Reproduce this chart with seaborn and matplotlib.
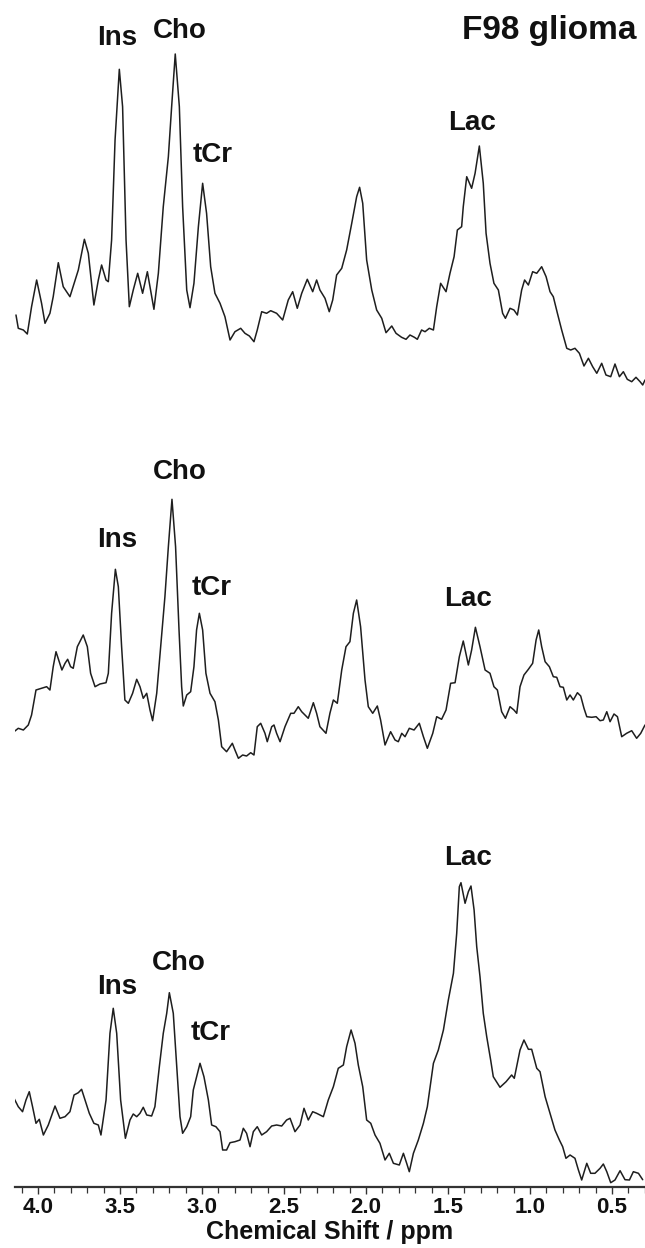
import numpy as np
import pandas as pd
import matplotlib
matplotlib.use("Agg")
import matplotlib.pyplot as plt
from matplotlib.ticker import MultipleLocator
import seaborn as sns

# ---------------- data ----------------
# Trace 1 (top)
ppm1 = [4.134, 4.120, 4.089, 4.065, 4.039, 4.008, 3.978, 3.957, 3.927, 3.907, 3.876, 3.846, 3.805, 3.754,
        3.717, 3.693, 3.659, 3.632, 3.612, 3.585, 3.571, 3.551, 3.530, 3.504, 3.484, 3.463, 3.443, 3.419,
        3.392, 3.362, 3.333, 3.317, 3.293, 3.266, 3.236, 3.205, 3.185, 3.163, 3.138, 3.118, 3.093, 3.073,
        3.049, 3.022, 2.996, 2.972, 2.947, 2.921, 2.890, 2.860, 2.829, 2.799, 2.764, 2.738, 2.711, 2.683,
        2.663, 2.636, 2.606, 2.581, 2.545, 2.508, 2.474, 2.447, 2.419, 2.392, 2.358, 2.325, 2.301,
        2.281, 2.250, 2.224, 2.203, 2.179, 2.148, 2.118, 2.087, 2.057, 2.039, 2.020, 1.996, 1.965, 1.935,
        1.904, 1.878, 1.843, 1.817, 1.783, 1.756, 1.732, 1.705, 1.687, 1.661, 1.640, 1.614, 1.589, 1.569,
        1.545, 1.512, 1.488, 1.463, 1.443, 1.417, 1.407, 1.386, 1.356, 1.335, 1.309, 1.285, 1.268, 1.244,
        1.220, 1.193, 1.167, 1.150, 1.122, 1.098, 1.077, 1.051, 1.033, 1.010, 0.984, 0.959, 0.929, 0.902,
        0.878, 0.858, 0.833, 0.807, 0.776, 0.752, 0.726, 0.699, 0.671, 0.644, 0.618, 0.593, 0.563, 0.537,
        0.508, 0.482, 0.455, 0.431, 0.407, 0.380, 0.354, 0.329, 0.313, 0.299]
int1 = [82, 68.7, 67, 63, 90.3, 117, 93.7, 73.7, 83.7, 100.3, 134.3, 110.3, 100.3, 127,
        157.7, 143.7, 92, 117, 132, 117, 115.3, 157, 257, 327.7, 290.3, 157, 90.3, 107,
        123.7, 103.7, 125.3, 110.3, 87.7, 123.7, 190.3, 240.3, 290.3, 343, 290.3, 190.3, 107, 89.3,
        113.7, 170.3, 213.7, 183.7, 130.3, 103.7, 93.7, 80.3, 57, 65.3, 68.7, 63.7, 61, 55.3,
        67, 85.3, 83.7, 86.3, 83.7, 77, 97, 105.3, 88.7, 103.7, 117.7, 105.3, 117,
        107, 98.7, 85.3, 97, 122, 128.7, 147, 173.7, 200.3, 209.7, 193.7, 137, 107, 87,
        78.7, 64.3, 71, 63.7, 59.7, 57.7, 62, 59.7, 57.7, 67, 65.3, 68.7, 67, 90.3,
        113.7, 105.3, 123.7, 140.3, 167, 170.3, 190.3, 220.3, 208.7, 223.7, 251, 213.7, 163.7, 133.7,
        113.7, 107, 83.7, 78.7, 88.7, 87, 82, 107, 117, 112, 125.3, 123.7, 130.3, 120.3,
        105.3, 100.3, 83.7, 67, 48.7, 47, 48.7, 43.7, 31, 38.7, 30.3, 23.7, 33.7, 22,
        20.3, 33, 20.3, 25.3, 17.7, 15.3, 19.7, 15.3, 12, 17]

# Trace 2 (middle)
ppm2 = [4.146, 4.120, 4.089, 4.059, 4.039, 4.012, 3.978, 3.947, 3.927, 3.907, 3.890, 3.870, 3.854, 3.835,
        3.819, 3.801, 3.785, 3.760, 3.724, 3.699, 3.679, 3.652, 3.622, 3.585, 3.571, 3.551, 3.528, 3.510,
        3.490, 3.470, 3.449, 3.423, 3.398, 3.378, 3.358, 3.337, 3.317, 3.301, 3.276, 3.252, 3.226, 3.205,
        3.183, 3.161, 3.140, 3.124, 3.114, 3.093, 3.069, 3.049, 3.033, 3.016, 2.996, 2.976, 2.951, 2.921,
        2.900, 2.880, 2.850, 2.815, 2.799, 2.778, 2.752, 2.728, 2.703, 2.683, 2.663, 2.642, 2.616, 2.602,
        2.575, 2.561, 2.545, 2.524, 2.494, 2.459, 2.439, 2.413, 2.392, 2.372, 2.352, 2.321, 2.301,
        2.281, 2.244, 2.220, 2.199, 2.175, 2.148, 2.122, 2.098, 2.077, 2.057, 2.033, 2.006, 1.986, 1.959,
        1.931, 1.911, 1.884, 1.850, 1.823, 1.803, 1.782, 1.762, 1.736, 1.707, 1.675, 1.650, 1.626, 1.593,
        1.569, 1.539, 1.512, 1.484, 1.457, 1.431, 1.407, 1.376, 1.356, 1.333, 1.305, 1.274, 1.244, 1.220,
        1.199, 1.173, 1.150, 1.122, 1.098, 1.081, 1.061, 1.037, 1.010, 0.984, 0.963, 0.947, 0.929, 0.908,
        0.882, 0.858, 0.837, 0.817, 0.797, 0.776, 0.756, 0.736, 0.711, 0.691, 0.671, 0.654, 0.624, 0.597,
        0.573, 0.553, 0.532, 0.512, 0.488, 0.467, 0.441, 0.411, 0.380, 0.350, 0.325, 0.299]
int2 = [35.3, 38.7, 37, 42, 52, 77, 78.7, 80.3, 77, 100.3, 115.3, 105.3, 97, 103.7,
        107.7, 100.3, 98.7, 120.3, 132, 120.3, 93.7, 80.3, 83, 84.3, 93.7, 153.7, 197.7, 180.3,
        120.3, 67, 63.7, 73.7, 87.7, 80.3, 68.7, 73.7, 57, 46.3, 73.7, 120.3, 170.3, 220.3,
        267.7, 220.3, 137, 80.3, 61, 72, 75.3, 100.3, 137, 153.7, 137, 93.7, 73.7, 65.3,
        47, 20.3, 15.3, 23.7, 17, 8.7, 12, 11, 14.3, 12, 40.3, 43.7, 33.7, 25.3,
        40.3, 42, 33.7, 25.3, 40.3, 53.7, 53.7, 60.3, 55.3, 52, 48.7, 64.3, 53.7,
        40.3, 33.7, 53.7, 67, 63.7, 97, 120.3, 125.3, 153.7, 167, 140.3, 87, 60.3, 53.7,
        61, 47, 22, 35.3, 27, 25.3, 33.7, 30.3, 38.7, 37, 43.7, 30.3, 18.7, 33.7,
        50.3, 47.7, 57, 83.7, 84.3, 110.3, 126, 102, 117, 139.7, 120.3, 97, 93.7, 80.3,
        77, 55.3, 48.7, 60.3, 57, 53.7, 80.3, 92, 97.7, 103.7, 127, 137, 120.3, 105.3,
        100.3, 90.3, 89.7, 80.3, 79.7, 67, 72, 67, 74.3, 71, 58.7, 50.3, 49.7, 50.3,
        46.3, 47, 55.3, 45.3, 53, 50.3, 30.3, 33.7, 36.3, 28.7, 33.7, 42]

# Trace 3 (bottom)
ppm3 = [4.167, 4.146, 4.120, 4.094, 4.073, 4.053, 4.033, 4.012, 3.992, 3.967, 3.937, 3.896, 3.866, 3.835,
        3.805, 3.780, 3.754, 3.734, 3.713, 3.687, 3.659, 3.632, 3.616, 3.585, 3.561, 3.541, 3.520, 3.496,
        3.467, 3.439, 3.419, 3.398, 3.378, 3.358, 3.337, 3.307, 3.287, 3.260, 3.236, 3.215, 3.199, 3.175,
        3.154, 3.134, 3.118, 3.093, 3.069, 3.053, 3.012, 2.988, 2.961, 2.941, 2.915, 2.890, 2.874, 2.850,
        2.829, 2.799, 2.768, 2.748, 2.728, 2.707, 2.687, 2.663, 2.636, 2.606, 2.575, 2.545, 2.514, 2.484,
        2.463, 2.433, 2.402, 2.378, 2.352, 2.325, 2.301,
        2.281, 2.260, 2.230, 2.199, 2.169, 2.138, 2.118, 2.091, 2.067, 2.047, 2.020, 1.996, 1.971, 1.945,
        1.915, 1.884, 1.858, 1.833, 1.797, 1.772, 1.752, 1.736, 1.711, 1.681, 1.650, 1.626, 1.589, 1.559,
        1.528, 1.498, 1.467, 1.447, 1.431, 1.421, 1.396, 1.376, 1.360, 1.341, 1.325, 1.305, 1.285, 1.264,
        1.240, 1.224, 1.183, 1.146, 1.112, 1.096, 1.061, 1.037, 1.010, 0.990, 0.959, 0.939, 0.908, 0.878,
        0.848, 0.821, 0.801, 0.781, 0.756, 0.726, 0.705, 0.685, 0.654, 0.630, 0.604, 0.573, 0.553, 0.532,
        0.508, 0.482, 0.451, 0.421, 0.394, 0.370, 0.339, 0.313]
int3 = [102, 88.7, 80.3, 75.3, 87, 95.3, 80.3, 63.7, 67.7, 52, 62, 81, 68.7, 70.3,
        75.3, 92, 94.3, 97.7, 87, 73.7, 63.7, 62, 52, 87, 153.7, 178.7, 153.7, 87,
        48.7, 67, 73, 70.3, 73.7, 79.7, 72, 71, 80.3, 120.3, 153.7, 173.7, 194.3, 173.7,
        120.3, 70.3, 53.7, 60.3, 70.3, 97, 123.7, 110.3, 87, 62, 60.3, 55.3, 37, 37,
        44.3, 45.3, 47, 58.7, 53.7, 40.3, 55.3, 60.3, 52, 55.3, 61, 62, 61, 67,
        68.7, 55.3, 62, 78.7, 67, 75.3, 73.7,
        72, 70.3, 87, 100.3, 118.7, 122, 140.3, 157, 143.7, 122, 100.3, 67, 63.7, 52,
        43.7, 27, 33.7, 23.7, 22, 33.7, 23.7, 15.3, 33.7, 47, 63.7, 80.3, 123.7, 137,
        157, 187, 213.7, 253.7, 300.3, 304.3, 283.7, 295.3, 301, 277, 240.3, 210.3, 173.7, 150.3,
        127, 110.3, 99.7, 105.3, 112, 108.7, 137, 147, 137.7, 137.7, 118.7, 115.3, 90.3, 73.7,
        57, 47, 40.3, 28.7, 32, 28.7, 17, 7, 23.7, 13.7, 13.7, 18.7, 23, 15.3,
        4.3, 7, 16.3, 7.3, 7, 15.3, 13.7, 7.3]

# metabolite labels: (text, ppm, height) for each trace (height in same units as the traces)
lab_text = ["Ins", "Cho", "tCr", "Lac"]
lab_ppm1 = [3.518, 3.134, 2.933, 1.354]
lab_h1 = [1149, 1156, 1032, 1064]
lab_ppm2 = [3.518, 3.134, 2.939, 1.378]
lab_h2 = [647, 715, 599, 588]
lab_ppm3 = [3.518, 3.140, 2.945, 1.378]
lab_h3 = [200, 224, 154, 329]

xticks = [4.0, 3.5, 3.0, 2.5, 2.0, 1.5, 1.0, 0.5]
xticklabels = ["4.0", "3.5", "3.0", "2.5", "2.0", "1.5", "1.0", "0.5"]

# ---------------- plotting ----------------
sns.set_theme(style="ticks")
plt.rcParams['font.family'] = ['Liberation Sans', 'DejaVu Sans']

W, H = 645, 1248
fig = plt.figure(figsize=(W / 100, H / 100), dpi=100)
ax = fig.add_axes([15 / W, (H - 1187) / H, (645 - 15) / W, 1187 / H])

offsets = [790, 420, 0]
line_kw = dict(color="#1e1e1e", linewidth=1.1, estimator=None, sort=False, legend=False)
for p, v, off in [(ppm1, int1, offsets[0]), (ppm2, int2, offsets[1]), (ppm3, int3, offsets[2])]:
    df = pd.DataFrame({"ppm": p, "I": np.asarray(v, dtype=float) + off})
    sns.lineplot(data=df, x="ppm", y="I", ax=ax, **line_kw)

for lp, lh in [(lab_ppm1, lab_h1), (lab_ppm2, lab_h2), (lab_ppm3, lab_h3)]:
    for t, x, y in zip(lab_text, lp, lh):
        ax.text(x, y, t, ha="center", va="center", fontsize=20, fontweight="bold", color="#111")

fig.text(636 / W, 1 - 31 / H, "F98 glioma", ha="right", va="center",
         fontsize=24, fontweight="bold", color="#111")

ax.set_xlim(4.140, 0.299)
ax.set_ylim(0, 1187)
ax.set_xticks(xticks)
ax.set_xticklabels(xticklabels)
ax.xaxis.set_minor_locator(MultipleLocator(0.1))
ax.set_yticks([])
ax.set_ylabel("")
ax.set_xlabel("Chemical Shift / ppm", fontsize=18, fontweight="bold", labelpad=2, color="#111")
for lbl in ax.get_xticklabels():
    lbl.set_fontweight("bold")
    lbl.set_fontsize(16)
    lbl.set_color("#111")
ax.tick_params(axis="x", which="major", direction="out", length=5, width=1.0, pad=2, colors="#333")
ax.tick_params(axis="x", which="minor", direction="out", length=4, width=0.9, colors="#333")
ax.tick_params(axis="x", which="both", labelcolor="#111")
sns.despine(ax=ax, left=True, top=True, right=True)
ax.spines["bottom"].set_linewidth(1.6)
ax.spines["bottom"].set_color("#333")
ax.patch.set_alpha(0)

fig.savefig("out.png", dpi=100)
